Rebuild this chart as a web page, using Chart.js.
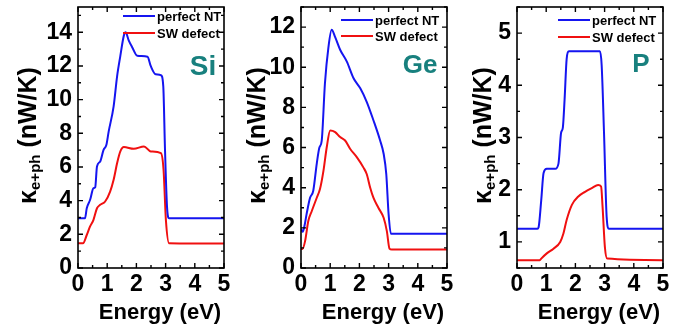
<!doctype html>
<html>
<head>
<title>Thermal conductance</title>
<script src="https://cdn.jsdelivr.net/npm/chart.js@4.4.1/dist/chart.umd.min.js"></script>
<style>
body { margin: 0; background: #fff; }
.panel { position: absolute; top: 0; height: 331px; }
</style>
</head>
<body>
	<div class="panel" style="left:0px;width:232px"><canvas id="si" width="232" height="331"></canvas></div>
	<div class="panel" style="left:232px;width:225px"><canvas id="ge" width="225" height="331"></canvas></div>
	<div class="panel" style="left:457px;width:228px"><canvas id="p" width="228" height="331"></canvas></div>

	<script>
		// energy axis ticks (eV)
		var xTicks = [0, 1, 2, 3, 4, 5];
		var seriesLabels = ['perfect NT', 'SW defect'];

		// Si
		var siYTicks = [0, 2, 4, 6, 8, 10, 12, 14];
		var siPerfectE = [0, 0.24, 0.3, 0.415, 0.53, 0.59, 0.65, 0.76, 0.875, 0.97, 1.05, 1.22, 1.34, 1.45, 1.57, 1.63, 1.74, 1.86, 2.03, 2.38, 2.49, 2.66, 2.84, 2.92, 2.98, 3.05, 3.12, 5];
		var siPerfectK = [2.95, 2.95, 3.55, 4.05, 4.74, 4.8, 6.03, 6.33, 7.02, 7.3, 8.1, 9.6, 11.4, 12.6, 13.8, 14.0, 13.5, 13.1, 12.6, 12.55, 12.0, 11.5, 11.45, 10.8, 7.0, 3.6, 2.95, 2.95];
		var siDefectE = [0, 0.17, 0.3, 0.41, 0.53, 0.65, 0.76, 0.93, 1.1, 1.22, 1.34, 1.45, 1.57, 1.91, 2.26, 2.49, 2.84, 2.93, 3.01, 3.12, 5];
		var siDefectK = [1.47, 1.47, 1.96, 2.46, 2.86, 3.55, 3.75, 3.95, 4.54, 5.24, 6.23, 6.92, 7.18, 7.08, 7.22, 6.92, 6.82, 5.83, 2.86, 1.47, 1.45];

		// Ge
		var geYTicks = [0, 2, 4, 6, 8, 10, 12];
		var gePerfectE = [0, 0.06, 0.12, 0.19, 0.31, 0.42, 0.54, 0.63, 0.71, 0.82, 0.94, 1.05, 1.17, 1.34, 1.57, 1.8, 2.03, 2.25, 2.48, 2.71, 2.83, 2.92, 3.0, 3.08, 5];
		var gePerfectK = [1.95, 1.8, 2.1, 2.67, 3.5, 3.85, 5.2, 6.0, 6.35, 9.2, 11.0, 11.87, 11.5, 10.87, 10.28, 9.45, 8.95, 8.28, 7.36, 6.35, 5.69, 4.68, 2.68, 1.7, 1.7];
		var geDefectE = [0, 0.05, 0.14, 0.25, 0.37, 0.54, 0.65, 0.77, 0.88, 1.0, 1.17, 1.34, 1.51, 1.68, 1.91, 2.14, 2.25, 2.37, 2.48, 2.65, 2.83, 2.94, 3.03, 3.11, 5];
		var geDefectK = [0.95, 0.95, 1.34, 2.34, 2.84, 3.5, 3.93, 4.85, 6.0, 6.85, 6.77, 6.52, 6.35, 5.94, 5.52, 5.0, 4.68, 4.0, 3.5, 3.0, 2.5, 1.84, 0.97, 0.92, 0.92];

		// P
		var pYTicks = [1, 2, 3, 4, 5];
		var pPerfectE = [0, 0.7, 0.74, 0.83, 0.91, 1.02, 1.31, 1.42, 1.51, 1.57, 1.63, 1.70, 1.78, 2.84, 2.9, 2.98, 3.07, 3.15, 5];
		var pPerfectK = [1.25, 1.25, 1.28, 1.8, 2.32, 2.4, 2.4, 2.5, 3.09, 3.19, 3.73, 4.5, 4.65, 4.65, 4.38, 3.09, 1.48, 1.25, 1.25];
		var pDefectE = [0, 0.78, 0.83, 1.02, 1.25, 1.48, 1.59, 1.7, 1.88, 2.1, 2.33, 2.56, 2.78, 2.88, 2.93, 3.01, 3.09, 5];
		var pDefectK = [0.65, 0.65, 0.68, 0.78, 0.87, 1.0, 1.16, 1.42, 1.71, 1.87, 1.96, 2.03, 2.09, 2.06, 1.68, 0.9, 0.68, 0.65];

		var FONT = "'Liberation Sans', Arial, sans-serif";
		var BLUE = '#1515f0', RED = '#f01010', TEAL = '#18807e';

		Chart.defaults.font.family = FONT;
		Chart.defaults.font.weight = 'bold';
		Chart.defaults.color = '#000';

		function pts(xs, ys) {
			return xs.map(function(x, i) { return {x: x, y: ys[i]}; });
		}

		function minorValues(scale) {
			var v = scale.ticks.map(function(t) { return t.value; });
			var h = (v[1] - v[0]) / 2, out = [];
			for (var m = v[0] - h; m <= scale.max + 1e-9; m += 2 * h) {
				if (m >= scale.min - 1e-9) out.push(m);
			}
			return out;
		}

		// box with inward ticks on all four sides
		var frame = {
			id: 'frame',
			afterDatasetsDraw: function(chart) {
				var ctx = chart.ctx, a = chart.chartArea;
				var xs = chart.scales.x, ys = chart.scales.y;
				ctx.save();
				ctx.strokeStyle = '#000';
				ctx.lineWidth = 1.4;
				ctx.beginPath();
				xs.ticks.forEach(function(t) {
					var px = xs.getPixelForValue(t.value);
					ctx.moveTo(px, a.bottom); ctx.lineTo(px, a.bottom - 5);
					ctx.moveTo(px, a.top); ctx.lineTo(px, a.top + 5);
				});
				minorValues(xs).forEach(function(v) {
					var px = xs.getPixelForValue(v);
					ctx.moveTo(px, a.bottom); ctx.lineTo(px, a.bottom - 3);
					ctx.moveTo(px, a.top); ctx.lineTo(px, a.top + 3);
				});
				ys.ticks.forEach(function(t) {
					var py = ys.getPixelForValue(t.value);
					ctx.moveTo(a.left, py); ctx.lineTo(a.left + 5, py);
					ctx.moveTo(a.right, py); ctx.lineTo(a.right - 5, py);
				});
				minorValues(ys).forEach(function(v) {
					var py = ys.getPixelForValue(v);
					ctx.moveTo(a.left, py); ctx.lineTo(a.left + 3, py);
					ctx.moveTo(a.right, py); ctx.lineTo(a.right - 3, py);
				});
				ctx.stroke();
				ctx.lineWidth = 1.6;
				ctx.strokeRect(a.left, a.top, a.right - a.left, a.bottom - a.top);
				ctx.restore();
			}
		};

		// titles, legend and material tag
		var decor = {
			id: 'decor',
			afterDraw: function(chart, args, o) {
				var ctx = chart.ctx, a = chart.chartArea;
				ctx.save();
				ctx.fillStyle = '#000';
				ctx.font = 'bold 22px ' + FONT;
				ctx.textAlign = 'center';
				ctx.textBaseline = 'alphabetic';
				ctx.fillText('Energy (eV)', (a.left + a.right) / 2 + 9, 319);

				// y title with subscript
				ctx.save();
				ctx.translate(o.titleX, (a.top + a.bottom) / 2 - 2);
				ctx.rotate(-Math.PI / 2);
				var big = 'bold 25px ' + FONT, small = 'bold 15px ' + FONT;
				ctx.font = big;
				var w1 = ctx.measureText('\u03ba').width;
				var w3 = ctx.measureText(' (nW/K)').width;
				ctx.font = small;
				var w2 = ctx.measureText('e+ph').width;
				var x0 = -(w1 + w2 + w3) / 2;
				ctx.textAlign = 'left';
				ctx.font = big; ctx.fillText('\u03ba', x0, 0);
				ctx.font = small; ctx.fillText('e+ph', x0 + w1, 4);
				ctx.font = big; ctx.fillText(' (nW/K)', x0 + w1 + w2, 0);
				ctx.restore();

				// legend
				ctx.font = 'bold 13px ' + FONT;
				ctx.textBaseline = 'middle';
				ctx.textAlign = 'left';
				var lx = o.legendX, ly = o.legendY;
				chart.data.datasets.forEach(function(ds, i) {
					ctx.strokeStyle = ds.borderColor;
					ctx.lineWidth = 2;
					ctx.beginPath();
					ctx.moveTo(lx - 34, ly[i]); ctx.lineTo(lx - 2, ly[i]);
					ctx.stroke();
					ctx.fillStyle = '#000';
					ctx.fillText(ds.label, lx, ly[i] + 1);
				});

				// material tag
				ctx.fillStyle = TEAL;
				ctx.font = 'bold ' + o.tagSize + 'px ' + FONT;
				ctx.textAlign = 'center';
				ctx.textBaseline = 'alphabetic';
				ctx.fillText(o.tag, o.tagX, o.tagY);
				ctx.restore();
			}
		};

		function makePanel(id, cfg) {
			var ctx = document.getElementById(id).getContext('2d');
			return new Chart(ctx, {
				type: 'line',
				data: {
					datasets: [{
						label: seriesLabels[0],
						data: pts(cfg.e1, cfg.k1),
						borderColor: BLUE,
						borderWidth: 2
					}, {
						label: seriesLabels[1],
						data: pts(cfg.e2, cfg.k2),
						borderColor: RED,
						borderWidth: 2
					}]
				},
				plugins: [frame, decor],
				options: {
					responsive: false,
					devicePixelRatio: 1,
					animation: false,
					elements: { point: { radius: 0 }, line: { fill: false, cubicInterpolationMode: 'monotone' } },
					layout: { padding: { left: 0, right: cfg.padRight, top: 7, bottom: 0 } },
					plugins: {
						legend: { display: false },
						tooltip: { enabled: false },
						decor: cfg.decor
					},
					scales: {
						x: {
							type: 'linear',
							min: 0, max: 5,
							grid: { display: false, drawTicks: false },
							border: { display: false },
							afterBuildTicks: function(s) { s.ticks = xTicks.map(function(v) { return {value: v}; }); },
							afterFit: function(s) { s.height = 63; s.paddingLeft = 0; s.paddingRight = 0; },
							ticks: { autoSkip: false, maxRotation: 0, padding: 3, font: { size: 23, weight: 'bold' } }
						},
						y: {
							min: cfg.yMin, max: cfg.yMax,
							grid: { display: false, drawTicks: false },
							border: { display: false },
							afterBuildTicks: function(s) { s.ticks = cfg.yTicks.map(function(v) { return {value: v}; }); },
							afterFit: function(s) { s.width = cfg.yWidth; s.paddingTop = 0; s.paddingBottom = 0; },
							ticks: { padding: 6, font: { size: 23, weight: 'bold' } }
						}
					}
				}
			});
		}

		makePanel('si', {
			e1: siPerfectE, k1: siPerfectK, e2: siDefectE, k2: siDefectK,
			yMin: 0, yMax: 15.5, yTicks: siYTicks, yWidth: 78, padRight: 8,
			decor: { titleX: 36, legendX: 157, legendY: [16, 33], tag: 'Si', tagX: 203, tagY: 75, tagSize: 28 }
		});
		makePanel('ge', {
			e1: gePerfectE, k1: gePerfectK, e2: geDefectE, k2: geDefectK,
			yMin: 0, yMax: 13, yTicks: geYTicks, yWidth: 69, padRight: 10,
			decor: { titleX: 33, legendX: 143, legendY: [20, 36], tag: 'Ge', tagX: 188, tagY: 73, tagSize: 26 }
		});
		makePanel('p', {
			e1: pPerfectE, k1: pPerfectK, e2: pDefectE, k2: pDefectK,
			yMin: 0.5, yMax: 5.5, yTicks: pYTicks, yWidth: 60, padRight: 22,
			decor: { titleX: 34, legendX: 135, legendY: [20, 37], tag: 'P', tagX: 184, tagY: 72, tagSize: 26 }
		});
	</script>
</body>
</html>
